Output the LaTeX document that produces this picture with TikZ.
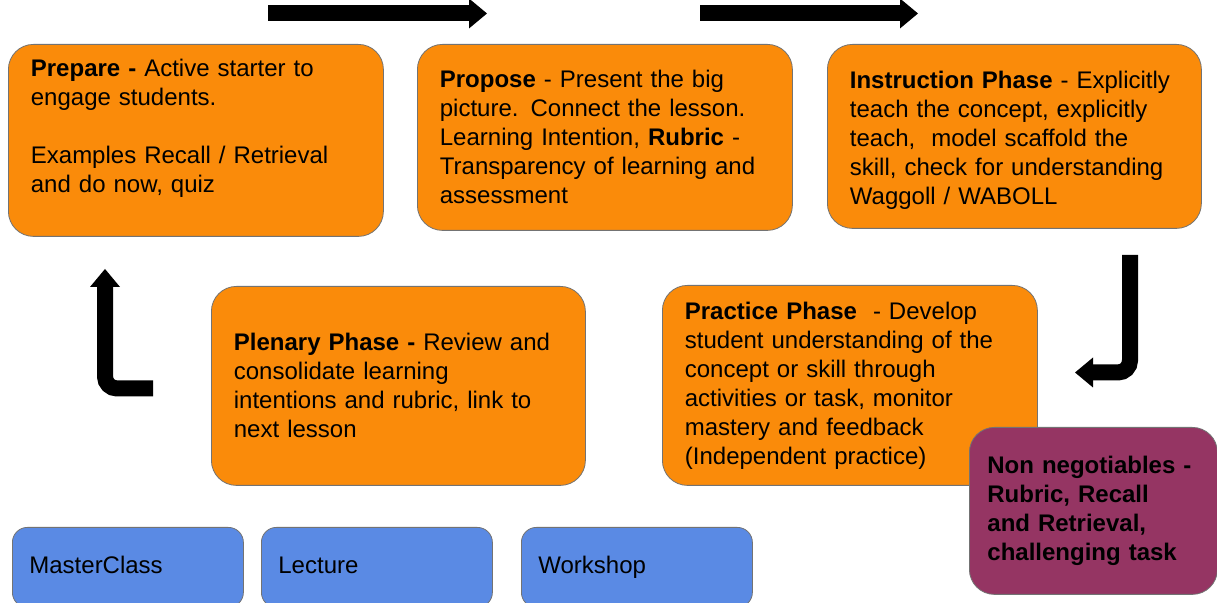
\documentclass[tikz,border=0pt]{standalone}
\usepackage{fontspec}
\setmainfont{Liberation Sans}
\usetikzlibrary{positioning,arrows.meta}

\definecolor{phaseorange}{RGB}{250,139,10}
\definecolor{modeblue}{RGB}{90,138,228}
\definecolor{mustred}{RGB}{149,53,99}

\tikzset{
  phase/.style={rectangle,draw=black!55,fill=phaseorange,rounded corners=12.5pt,anchor=north west,
    align=left,inner xsep=11.25pt,inner ysep=0pt,font=\fontsize{12}{14.5}\selectfont},
  mode/.style={phase,fill=modeblue,rounded corners=7.5pt,inner xsep=8.5pt,text width=98.5pt,minimum height=40pt,
    execute at begin node=\strut},
  flow/.style={line width=8pt,-{Triangle[length=9pt,width=15pt,line width=0pt]}}
}

\begin{document}
\begin{tikzpicture}[x=0.5pt,y=-0.5pt]
\useasboundingbox (0,0) rectangle (1217,603);

% lesson phases
\node[phase,text width=165pt,minimum height=96pt] (prepare) at (8,44) {
  \textbf{Prepare -} Active starter to\\
  engage students.\\[14.5pt]
  Examples Recall / Retrieval\\
  and do now, quiz\\
  \mbox{}};
\node[phase,text width=165pt,minimum height=93pt] (propose) at (417,44) {
  \textbf{Propose} - Present the big\\
  picture. Connect the lesson.\\
  Learning Intention, \textbf{Rubric} -\\
  Transparency of learning and\\
  assessment};
\node[phase,text width=164.5pt,minimum height=92pt] (instruct) at (827,44) {
  \rule{0pt}{13pt}\textbf{Instruction Phase} - Explicitly\\
  teach the concept, explicitly\\
  teach,\ \ model scaffold the\\
  skill, check for understanding\\
  Waggoll / WABOLL};
\node[phase,text width=164.5pt,minimum height=99.5pt] (plenary) at (211,286) {
  \textbf{Plenary Phase -} Review and\\
  consolidate learning\\
  intentions and rubric, link to\\
  next lesson};
\node[phase,text width=165pt,minimum height=100pt] (practice) at (662,285) {
  \textbf{Practice Phase}\ \ - Develop\\
  student understanding of the\\
  concept or skill through\\
  activities or task, monitor\\
  mastery and feedback\\
  (Independent practice)};
\node[phase,fill=mustred,inner xsep=9pt,text width=106pt,minimum height=83.5pt,
  font=\fontsize{12}{14.5}\selectfont\bfseries] (musts) at (969,427) {
  Non negotiables -\\
  Rubric, Recall\\
  and Retrieval,\\
  challenging task};

% lesson types
\node[mode] (masterclass) at (12,527) {MasterClass};
\node[mode] (lecture) at (261,527) {Lecture};
\node[mode] (workshop) at (521,527) {Workshop};

% flow arrows
\coordinate (a1s) at (268,13.5);
\coordinate (a1e) at (487,13.5);
\coordinate (a2s) at (700,13.5);
\coordinate (a2e) at (918,13.5);
\coordinate (a3s) at (1130,255);
\coordinate (a3e) at (1075,372.5);
\coordinate (a4s) at (153,388.5);
\coordinate (a4e) at (105,269);

\draw[flow] (a1s) -- (a1e);
\draw[flow] (a2s) -- (a2e);
\draw[flow,rounded corners=6pt] (a3s) |- (a3e);
\draw[flow,rounded corners=6pt] (a4s) -| (a4e);
\end{tikzpicture}
\end{document}
